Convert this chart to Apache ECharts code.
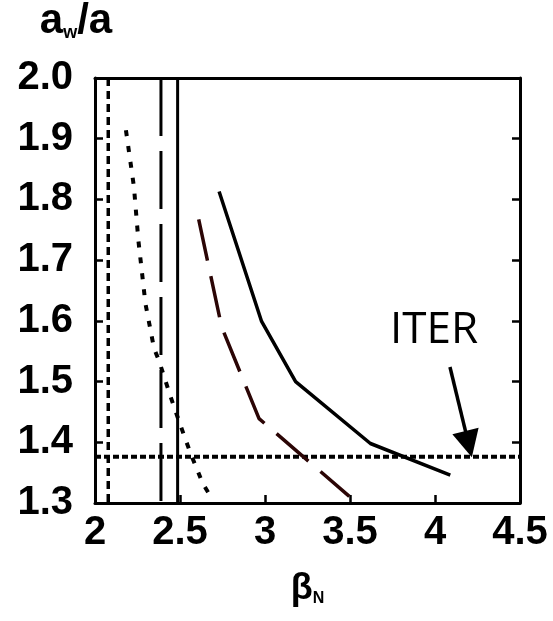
<!DOCTYPE html>
<html>
<head>
<meta charset="utf-8">
<script src="https://cdn.jsdelivr.net/npm/echarts@6/dist/echarts.min.js"></script>
<style>
  html, body { margin: 0; padding: 0; background: #fff; }
  #chart { width: 553px; height: 621px; }
</style>
</head>
<body>
<div id="chart"></div>
<script>
// x ticks and y ticks
var betaTicks = [2, 2.5, 3, 3.5, 4, 4.5];
var awTicks = [1.3, 1.4, 1.5, 1.6, 1.7, 1.8, 1.9, 2.0];

// solid curve
var solidBeta = [2.73, 2.98, 3.18, 3.62, 4.09];
var solidAw = [1.813, 1.599, 1.500, 1.398, 1.346];

// long dashed (dark red) curve
var dashBeta = [2.61, 2.745, 2.965, 3.496];
var dashAw = [1.767, 1.590, 1.439, 1.311];

// dotted curve
var dotBeta = [2.182, 2.229, 2.255, 2.297, 2.347, 2.378, 2.441, 2.5, 2.563, 2.634, 2.682];
var dotAw = [1.914, 1.821, 1.733, 1.628, 1.555, 1.533, 1.478, 1.430, 1.381, 1.332, 1.310];

// vertical limits (no-wall limits) and ITER wall position
var limitSolid = 2.486;
var limitDash = 2.388;
var limitDot = 2.078;
var iterAw = 1.376;
// arrow: tail and centre of the head (head tip lands on the ITER line)
var arrowFrom = [4.088, 1.524];
var arrowTo = [4.198, 1.397];

function pairs(xs, ys) {
    var out = [];
    for (var i = 0; i < xs.length; i++) {
        out.push([xs[i], ys[i]]);
    }
    return out;
}
function vline(x) {
    return [[x, awTicks[awTicks.length - 1]], [x, awTicks[0]]];
}

var chart = echarts.init(document.getElementById('chart'));
var option = {
    animation: false,
    grid: { left: 95, right: 33, top: 78, bottom: 118 },
    xAxis: [{
        type: 'value',
        min: betaTicks[0],
        max: betaTicks[betaTicks.length - 1],
        interval: 0.5,
        name: '{b|β}{n|N}',
        nameLocation: 'middle',
        nameGap: 68,
        nameTextStyle: {
            rich: {
                b: { fontSize: 36, fontWeight: 'bold', fontFamily: 'Liberation Sans', color: '#000' },
                n: { fontSize: 16, fontWeight: 'bold', fontFamily: 'Liberation Sans', color: '#000', verticalAlign: 'bottom', padding: [14, 0, 0, 0] }
            }
        },
        axisLine: { lineStyle: { color: '#000', width: 3 } },
        axisTick: { inside: true, length: 8, lineStyle: { width: 2.5, color: '#000' } },
        axisLabel: {
            margin: 10,
            fontSize: 40, fontWeight: 'bold', fontFamily: 'Liberation Sans', color: '#000'
        },
        splitLine: { show: false }
    }, {
        type: 'value',
        position: 'top',
        min: betaTicks[0],
        max: betaTicks[betaTicks.length - 1],
        interval: 0.5,
        axisLine: { lineStyle: { color: '#000', width: 3 } },
        axisTick: { show: false },
        axisLabel: { show: false },
        splitLine: { show: false }
    }],
    yAxis: [{
        type: 'value',
        min: awTicks[0],
        max: awTicks[awTicks.length - 1],
        interval: 0.1,
        name: '{a|a}{w|w}{a|/a}',
        nameLocation: 'end',
        nameGap: 36,
        nameTextStyle: {
            padding: [0, 38, 0, 0],
            rich: {
                a: { fontSize: 42, fontWeight: 'bold', fontFamily: 'Liberation Sans', color: '#000' },
                w: { fontSize: 18, fontWeight: 'bold', fontFamily: 'Liberation Sans', color: '#000', verticalAlign: 'bottom', padding: [18, 0, 0, 0] }
            }
        },
        axisLine: { lineStyle: { color: '#000', width: 3 } },
        axisTick: { inside: true, length: 8, lineStyle: { width: 2.5, color: '#000' } },
        axisLabel: {
            margin: 22,
            fontSize: 40, fontWeight: 'bold', fontFamily: 'Liberation Sans', color: '#000',
            formatter: function (v) { return v.toFixed(1); }
        },
        splitLine: { show: false }
    }, {
        type: 'value',
        position: 'right',
        min: awTicks[0],
        max: awTicks[awTicks.length - 1],
        interval: 0.1,
        axisLine: { lineStyle: { color: '#000', width: 3 } },
        axisTick: { inside: true, length: 8, lineStyle: { width: 2.5, color: '#000' } },
        axisLabel: { show: false },
        splitLine: { show: false }
    }],
    graphic: [{
        type: 'text',
        left: 390,
        top: 308,
        style: { text: 'ITER', fontSize: 44, fontFamily: 'Open Sans', fill: '#000' }
    }],
    series: [{
        name: 'ITER wall',
        type: 'line',
        symbol: 'none',
        data: [[betaTicks[0], iterAw], [betaTicks[betaTicks.length - 1], iterAw]],
        lineStyle: { color: '#000', width: 4, type: [6, 3] },
        z: 3
    }, {
        name: 'no wall dotted',
        type: 'line',
        symbol: 'none',
        data: vline(limitDot),
        lineStyle: { color: '#000', width: 3.5, type: [8, 5] }
    }, {
        name: 'no wall dashed',
        type: 'line',
        symbol: 'none',
        data: vline(limitDash),
        lineStyle: { color: '#000', width: 3, type: [58, 15] }
    }, {
        name: 'no wall solid',
        type: 'line',
        symbol: 'none',
        data: vline(limitSolid),
        lineStyle: { color: '#000', width: 3 }
    }, {
        name: 'dotted',
        type: 'line',
        symbol: 'none',
        data: pairs(dotBeta, dotAw),
        lineStyle: { color: '#000', width: 4, type: [6, 10] }
    }, {
        name: 'dashed',
        type: 'line',
        symbol: 'none',
        data: pairs(dashBeta, dashAw),
        lineStyle: { color: '#2b0505', width: 3.5, type: [42, 16] }
    }, {
        name: 'solid',
        type: 'line',
        symbol: 'none',
        data: pairs(solidBeta, solidAw),
        lineStyle: { color: '#000', width: 3.5 },
        markLine: {
            silent: true,
            symbol: ['none', 'triangle'],
            symbolSize: 27,
            label: { show: false },
            lineStyle: { color: '#000', width: 3.5, type: 'solid' },
            data: [[{ coord: arrowFrom }, { coord: arrowTo }]]
        }
    }]
};
chart.setOption(option);
</script>
</body>
</html>
